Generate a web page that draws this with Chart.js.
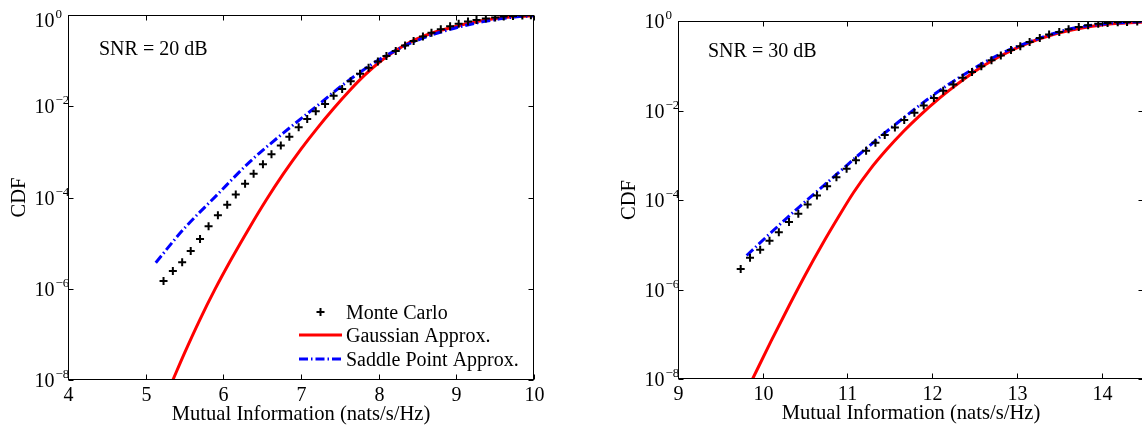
<!DOCTYPE html>
<html>
<head>
<meta charset="utf-8">
<title>CDF of mutual information</title>
<script src="https://cdn.jsdelivr.net/npm/chart.js"></script>
<style>
  html, body { margin: 0; padding: 0; background: #fff; overflow: hidden; }
  #wrap { position: relative; width: 1142px; height: 429px; overflow: hidden; }
  canvas { position: absolute; top: 0; }
  #left-chart { left: 0; }
  #right-chart { left: 571px; }
</style>
</head>
<body>
<div id="wrap">
  <canvas id="left-chart" width="571" height="429"></canvas>
  <canvas id="right-chart" width="600" height="429"></canvas>
</div>
<script>
// Values (CDF on a log axis)

const seriesNames = ['Monte Carlo', 'Gaussian Approx.', 'Saddle Point Approx.'];
const yTicks = [1e-8, 1e-6, 1e-4, 1e-2, 1];
const yTickExps = ['\u22128', '\u22126', '\u22124', '\u22122', '0'];
const xTicksLeft = [4, 5, 6, 7, 8, 9, 10];
const xTicksRight = [9, 10, 11, 12, 13, 14];
const snrLeft = 'SNR = 20 dB';
const snrRight = 'SNR = 30 dB';
const xTitle = 'Mutual Information (nats/s/Hz)';
const yTitle = 'CDF';

// SNR = 20 dB
const mcLeftX = [5.23, 5.35, 5.47, 5.58, 5.70, 5.81, 5.93, 6.05, 6.16, 6.28, 6.39, 6.51, 6.62, 6.74,
  6.85, 6.97, 7.08, 7.19, 7.31, 7.42, 7.53, 7.64, 7.76, 7.87, 7.99, 8.10, 8.22, 8.34, 8.45, 8.57,
  8.68, 8.80, 8.92, 9.03, 9.15, 9.26, 9.38, 9.50, 9.61, 9.73, 9.85, 9.96];
const mcLeftCdf = [1.48e-6, 2.45e-6, 3.80e-6, 6.76e-6, 1.23e-5, 2.34e-5, 4.07e-5, 6.92e-5, 1.17e-4,
  2.00e-4, 3.31e-4, 5.37e-4, 8.91e-4, 1.38e-3, 2.14e-3, 3.47e-3, 5.25e-3, 7.76e-3, 1.12e-2, 1.70e-2,
  2.40e-2, 3.55e-2, 5.13e-2, 7.0e-2, 9.55e-2, 0.126, 0.162, 0.214, 0.269, 0.339, 0.407, 0.490, 0.569,
  0.646, 0.716, 0.780, 0.838, 0.887, 0.925, 0.955, 0.977, 0.989];

const gaussLeftX = [5.35, 5.50, 5.70, 5.89, 6.10, 6.34, 6.55, 6.77, 7.00, 7.20, 7.42, 7.63, 7.82,
  8.02, 8.20, 8.40, 8.60, 8.79, 9.00, 9.18, 9.38, 9.56, 9.78, 10.0];
const gaussLeftCdf = [1.0e-8, 3.89e-8, 2.14e-7, 9.55e-7, 4.37e-6, 2.24e-5, 8.71e-5, 3.24e-4, 1.15e-3,
  3.16e-3, 8.91e-3, 2.24e-2, 4.79e-2, 9.55e-2, 0.158, 0.251, 0.355, 0.457, 0.569, 0.668, 0.776, 0.861,
  0.927, 0.966];

const saddleLeftX = [5.13, 5.48, 5.91, 6.34, 6.77, 7.20, 7.54, 7.84, 8.06, 8.27, 8.50, 8.70, 8.90,
  9.13, 9.35, 9.56, 9.78, 10.0];
const saddleLeftCdf = [3.72e-6, 1.95e-5, 1.10e-4, 6.03e-4, 2.57e-3, 1.0e-2, 2.95e-2, 6.92e-2, 0.119,
  0.186, 0.279, 0.372, 0.473, 0.596, 0.716, 0.822, 0.912, 0.966];

// SNR = 30 dB
const mcRightX = [9.74, 9.85, 9.97, 10.08, 10.19, 10.31, 10.42, 10.53, 10.64, 10.76, 10.87, 10.99,
  11.10, 11.22, 11.33, 11.44, 11.56, 11.67, 11.79, 11.90, 12.02, 12.13, 12.25, 12.36, 12.47, 12.58,
  12.70, 12.81, 12.93, 13.04, 13.15, 13.27, 13.38, 13.50, 13.61, 13.73, 13.84, 13.96, 14.07, 14.19,
  14.30, 14.42];
const mcRightCdf = [2.88e-6, 5.13e-6, 7.76e-6, 1.23e-5, 1.91e-5, 3.24e-5, 4.90e-5, 7.94e-5, 1.26e-4,
  2.04e-4, 3.24e-4, 5.01e-4, 7.76e-4, 1.26e-3, 1.91e-3, 2.82e-3, 4.17e-3, 6.17e-3, 8.91e-3, 1.29e-2,
  1.91e-2, 2.75e-2, 3.80e-2, 5.37e-2, 7.24e-2, 9.77e-2, 0.132, 0.170, 0.224, 0.272, 0.339, 0.417,
  0.501, 0.569, 0.653, 0.735, 0.802, 0.871, 0.902, 0.933, 0.955, 0.977];

const gaussRightX = [9.88, 10.10, 10.32, 10.50, 10.70, 10.90, 11.07, 11.27, 11.46, 11.66, 11.85,
  12.09, 12.25, 12.41, 12.60, 12.80, 13.00, 13.19, 13.40, 13.59, 13.80, 13.98, 14.20, 14.50];
const gaussRightCdf = [1.0e-8, 7.08e-8, 4.68e-7, 2.09e-6, 1.0e-5, 4.37e-5, 1.45e-4, 4.90e-4, 1.32e-3,
  3.39e-3, 7.59e-3, 1.91e-2, 3.33e-2, 5.62e-2, 9.84e-2, 0.163, 0.251, 0.353, 0.479, 0.596, 0.716,
  0.804, 0.885, 0.948];

const saddleRightX = [9.81, 10.08, 10.44, 10.87, 11.22, 11.58, 12.01, 12.33, 12.80, 13.20, 13.60,
  14.00, 14.50];
const saddleRightCdf = [5.75e-6, 1.74e-5, 7.24e-5, 3.72e-4, 1.41e-3, 5.13e-3, 2.19e-2, 5.62e-2,
  0.182, 0.372, 0.646, 0.851, 0.977];

const FONT = '"Liberation Serif", "Times New Roman", serif';

function toPoints(xs, ys) {
  return xs.map((x, i) => ({ x: x, y: ys[i] }));
}

// Draws MATLAB-style box, inward ticks, labels, annotation and legend
const matlabAxes = {
  id: 'matlabAxes',
  afterDatasetsDraw(chart, args, opts) {
    const ctx = chart.ctx;
    const a = chart.chartArea;
    const xs = chart.scales.x;
    const ys = chart.scales.y;
    const L = Math.round(a.left) + 0.5;
    const R = Math.round(a.right) - 0.5;
    const T = Math.round(a.top) + 0.5;
    const B = Math.round(a.bottom) - 0.5;
    const tick = 5;

    ctx.save();
    ctx.strokeStyle = '#000';
    ctx.fillStyle = '#000';
    ctx.lineWidth = 1;
    ctx.strokeRect(L, T, R - L, B - T);

    // x ticks (bottom and top) and labels
    ctx.font = '20px ' + FONT;
    ctx.textAlign = 'center';
    ctx.textBaseline = 'alphabetic';
    opts.xTicks.forEach(v => {
      const px = Math.round(xs.getPixelForValue(v)) + 0.5;
      ctx.beginPath();
      ctx.moveTo(px, B); ctx.lineTo(px, B - tick);
      ctx.moveTo(px, T); ctx.lineTo(px, T + tick);
      ctx.stroke();
      ctx.fillText(String(v), px, a.bottom + 20.5);
    });

    // y ticks (left and right) and labels 10^n
    yTicks.forEach((v, i) => {
      const py = Math.round(ys.getPixelForValue(v)) + 0.5;
      ctx.beginPath();
      ctx.moveTo(L, py); ctx.lineTo(L + tick, py);
      ctx.moveTo(R, py); ctx.lineTo(R - tick, py);
      ctx.stroke();
      const base = Math.max(py + 6.5, 26.5);
      const lx = a.left - 33.5;
      ctx.textAlign = 'left';
      ctx.font = '20px ' + FONT;
      ctx.fillText('10', lx, base);
      const w = ctx.measureText('10').width;
      ctx.font = '13px ' + FONT;
      ctx.fillText(yTickExps[i], lx + w + 1, base - 9);
    });

    // axis titles
    ctx.font = '20.6px ' + FONT;
    ctx.textAlign = 'center';
    ctx.fillText(xTitle, (a.left + a.right) / 2, a.bottom + 40);
    ctx.save();
    ctx.translate(a.left - 43.5, (a.top + a.bottom) / 2);
    ctx.rotate(-Math.PI / 2);
    ctx.fillText(yTitle, 0, 0);
    ctx.restore();

    // SNR annotation
    ctx.font = '20px ' + FONT;
    ctx.textAlign = 'left';
    ctx.fillText(opts.snr, a.left + opts.snrDx, a.top + opts.snrDy);

    // legend inside the lower right corner
    if (opts.legend) {
      const ds = chart.data.datasets;
      const x0 = a.right - 235;
      const rows = [a.bottom - 68, a.bottom - 45, a.bottom - 21];
      ds.forEach((d, i) => {
        const ry = rows[i];
        if (d.showLine === false) {
          const cx = x0 + 21.5;
          const r = d.pointRadius;
          ctx.lineWidth = d.pointBorderWidth;
          ctx.strokeStyle = d.pointBorderColor;
          ctx.setLineDash([]);
          ctx.beginPath();
          ctx.moveTo(cx - r, ry); ctx.lineTo(cx + r, ry);
          ctx.moveTo(cx, ry - r); ctx.lineTo(cx, ry + r);
          ctx.stroke();
        } else {
          ctx.lineWidth = d.borderWidth;
          ctx.strokeStyle = d.borderColor;
          ctx.setLineDash(d.borderDash || []);
          ctx.beginPath();
          ctx.moveTo(x0, ry); ctx.lineTo(x0 + 43, ry);
          ctx.stroke();
        }
        ctx.setLineDash([]);
        ctx.fillStyle = '#000';
        ctx.font = '20px ' + FONT;
        ctx.textAlign = 'left';
        ctx.fillText(d.label, x0 + 47, ry + 6.5);
      });
    }
    ctx.restore();
  }
};

function makeChart(id, mc, gauss, saddle, xMin, xMax, padding, axesOpts) {
  return new Chart(document.getElementById(id), {
    type: 'line',
    data: {
      datasets: [
        {
          label: seriesNames[0],
          data: mc,
          showLine: false,
          pointStyle: 'cross',
          pointRadius: 4,
          pointBorderWidth: 2,
          pointBorderColor: '#000000',
          borderColor: '#000000',
          order: 0
        },
        {
          label: seriesNames[1],
          data: gauss,
          borderColor: '#ff0000',
          borderWidth: 3,
          pointRadius: 0,
          cubicInterpolationMode: 'monotone',
          order: 2
        },
        {
          label: seriesNames[2],
          data: saddle,
          borderColor: '#0000ff',
          borderWidth: 3,
          borderDash: [9, 3, 1.5, 3],
          pointRadius: 0,
          cubicInterpolationMode: 'monotone',
          order: 1
        }
      ]
    },
    options: {
      responsive: false,
      animation: false,
      events: [],
      layout: { padding: padding },
      scales: {
        x: { type: 'linear', min: xMin, max: xMax, display: false },
        y: { type: 'logarithmic', min: 1e-8, max: 1, display: false }
      },
      plugins: {
        legend: { display: false },
        tooltip: { enabled: false },
        matlabAxes: axesOpts
      }
    },
    plugins: [matlabAxes]
  });
}

makeChart('left-chart',
  toPoints(mcLeftX, mcLeftCdf),
  toPoints(gaussLeftX, gaussLeftCdf),
  toPoints(saddleLeftX, saddleLeftCdf),
  4, 10,
  { left: 68, right: 37, top: 15, bottom: 49 },
  { xTicks: xTicksLeft, snr: snrLeft, snrDx: 31, snrDy: 40, legend: true });

makeChart('right-chart',
  toPoints(mcRightX, mcRightCdf),
  toPoints(gaussRightX, gaussRightCdf),
  toPoints(saddleRightX, saddleRightCdf),
  9, 14.5,
  { left: 107, right: 27, top: 21, bottom: 50 },
  { xTicks: xTicksRight, snr: snrRight, snrDx: 30, snrDy: 36, legend: false });
</script>
</body>
</html>
